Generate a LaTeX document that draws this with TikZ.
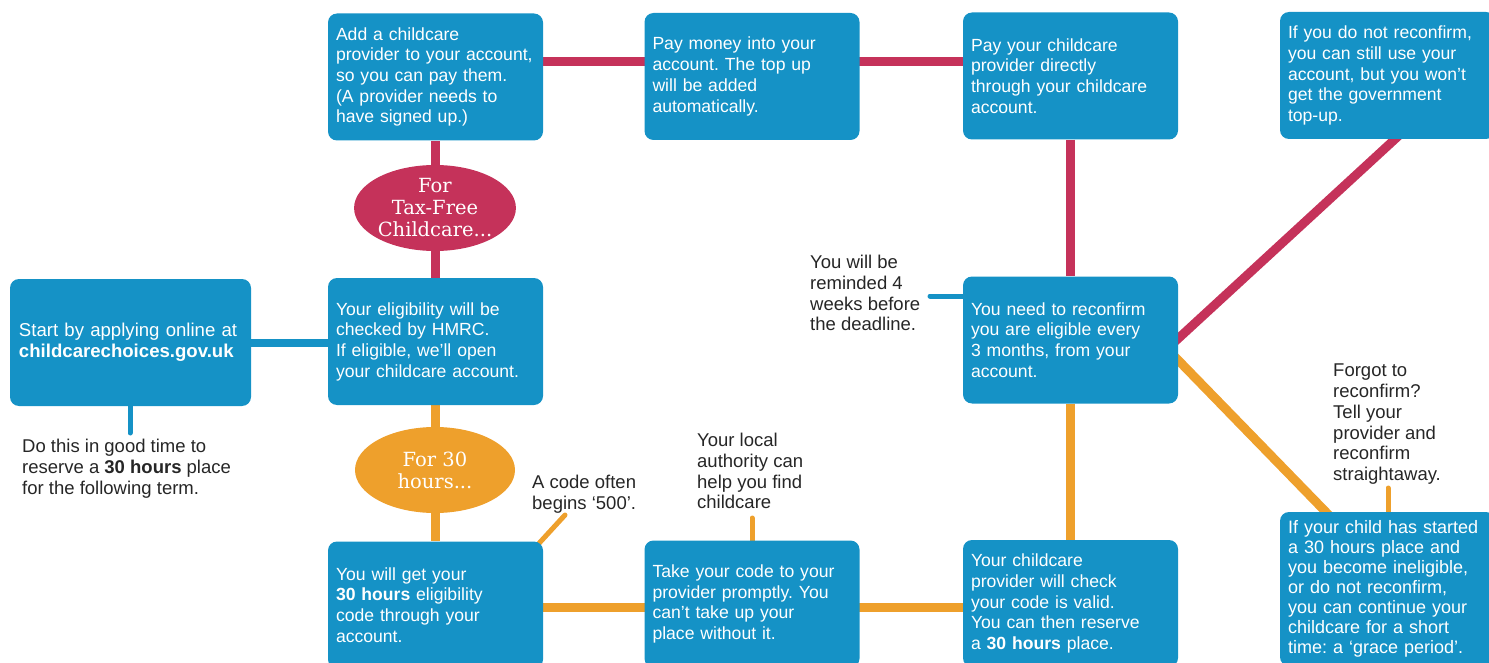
\documentclass[tikz,border=0pt]{standalone}
\usepackage{fontspec}
\setmainfont{Liberation Sans}
\newfontfamily\slabfont{DejaVu Serif}
\usetikzlibrary{shapes.geometric,backgrounds}
\definecolor{boxblue}{HTML}{1592C6}
\definecolor{linkred}{HTML}{C5325A}
\definecolor{linkorange}{HTML}{EEA02C}
\definecolor{notegray}{HTML}{262626}
\frenchspacing
\hyphenpenalty=10000
\tikzset{
  infobox/.style={rectangle, rounded corners=9pt, fill=boxblue, text=white, align=left,
    text width=199pt, inner xsep=8pt, inner ysep=4pt, minimum width=215pt, minimum height=127pt,
    font=\fontsize{17.6}{20.7}\selectfont},
  oval/.style={ellipse, inner sep=0pt, minimum width=160pt, minimum height=86pt, text=white,
    align=center, font=\slabfont\fontsize{19.5}{22}\selectfont},
  notetext/.style={anchor=north west, align=left, inner sep=4pt, text=notegray,
    font=\fontsize{18.5}{20.7}\selectfont},
  redlink/.style={draw=linkred, line width=9pt},
  orangelink/.style={draw=linkorange, line width=9pt},
  bluelink/.style={draw=boxblue, line width=8pt},
  thinlink/.style={line width=5pt, line cap=round},
}

\begin{document}
\begin{tikzpicture}[x=1pt,y=-1pt]
	%%%%% START %%%%%
	\useasboundingbox (0,0) rectangle (1489,663);

	% boxes
	\node[infobox, text width=223pt, minimum width=241pt, font=\fontsize{18.6}{20.7}\selectfont] (start) at (130.5,342.5) {Start by applying online at\\\textbf{childcarechoices.gov.uk}};
	\node[infobox] (elig) at (435.5,341.5) {Your eligibility will be\\checked by HMRC.\\If eligible, we'll open\\your childcare account.};
	\node[infobox] (add) at (435.5,77) {Add a childcare\\provider to your account,\\so you can pay them.\\(A provider needs to\\have signed up.)};
	\node[infobox] (paymoney) at (752,76.5) {Pay money into your\\account. The top up\\will be added\\automatically.};
	\node[infobox] (paycare) at (1070.5,76) {Pay your childcare\\provider directly\\through your childcare\\account.};
	\node[infobox] (noreconf) at (1387.5,75.5) {If you do not reconfirm,\\you can still use your\\account, but you won't\\get the government\\top-up.};
	\node[infobox] (reconf) at (1070.5,340) {You need to reconfirm\\you are eligible every\\3 months, from your\\account.};
	\node[infobox] (code) at (435.5,605) {You will get your\\\textbf{30 hours} eligibility\\code through your\\account.};
	\node[infobox] (take) at (752,604) {Take your code to your\\provider promptly. You\\can't take up your\\place without it.};
	\node[infobox] (check) at (1070.5,603.5) {Your childcare\\provider will check\\your code is valid.\\You can then reserve\\a \textbf{30 hours} place.};
	\node[infobox, minimum height=154pt, font=\fontsize{18}{20}\selectfont] (grace) at (1387.5,589) {If your child has started\\a 30 hours place and\\you become ineligible,\\or do not reconfirm,\\you can continue your\\childcare for a short\\time: a `grace period'.};

	% ovals
	\node[oval, fill=linkred] (taxfree) at (435,208) {For\\Tax-Free\\Childcare...};
	\node[oval, fill=linkorange] (thirty) at (435,470) {For 30\\hours...};

	% notes
	\node[notetext] (startnote) at (18,435) {Do this in good time to\\reserve a \textbf{30 hours} place\\for the following term.};
	\node[notetext] (codenote) at (528,471) {A code often\\begins `500'.};
	\node[notetext] (localnote) at (693,429) {Your local\\authority can\\help you find\\childcare};
	\node[notetext] (remindnote) at (806,251) {You will be\\reminded 4\\weeks before\\the deadline.};
	\node[notetext] (forgotnote) at (1329,360) {Forgot to\\reconfirm?\\Tell your\\provider and\\reconfirm\\straightaway.};

	\coordinate (starttip) at (130,433);
	\coordinate (codetip) at (565,515);
	\coordinate (localtip) at (752,518);
	\coordinate (remindtip) at (930,296);
	\coordinate (forgottip) at (1388,488);

	% links
	\begin{scope}[on background layer]
		\draw[redlink] (elig) -- (add);
		\draw[redlink] ([yshift=15pt]add.east) -- ([yshift=15pt]add.east -| paycare.west);
		\draw[redlink] (paycare) -- (reconf);
		\draw[redlink] ([xshift=-7pt,yshift=-5pt]reconf.east) -- ([xshift=15pt,yshift=7pt]noreconf.south);

		\draw[orangelink] (elig) -- (code);
		\draw[orangelink] ([yshift=-2pt]code.east) -- ([yshift=-2pt]code.east -| check.west);
		\draw[orangelink] (reconf) -- (check);
		\draw[orangelink] ([xshift=-7pt,yshift=-13pt]reconf.east) -- ([xshift=-55pt,yshift=-7pt]grace.north);

		\draw[orangelink, thinlink] (codetip) -- ([xshift=-6pt,yshift=-4pt]code.north east);
		\draw[orangelink, thinlink] (localtip) -- (localtip |- take.north);
		\draw[orangelink, thinlink] (forgottip) -- (forgottip |- grace.north);

		\draw[bluelink] (start) -- (start -| elig);
		\draw[bluelink, thinlink] (starttip) -- (starttip |- start.south);
		\draw[bluelink, thinlink] (remindtip) -- (remindtip -| reconf.west);
	\end{scope}
	%%%%% END %%%%%
\end{tikzpicture}
\end{document}
